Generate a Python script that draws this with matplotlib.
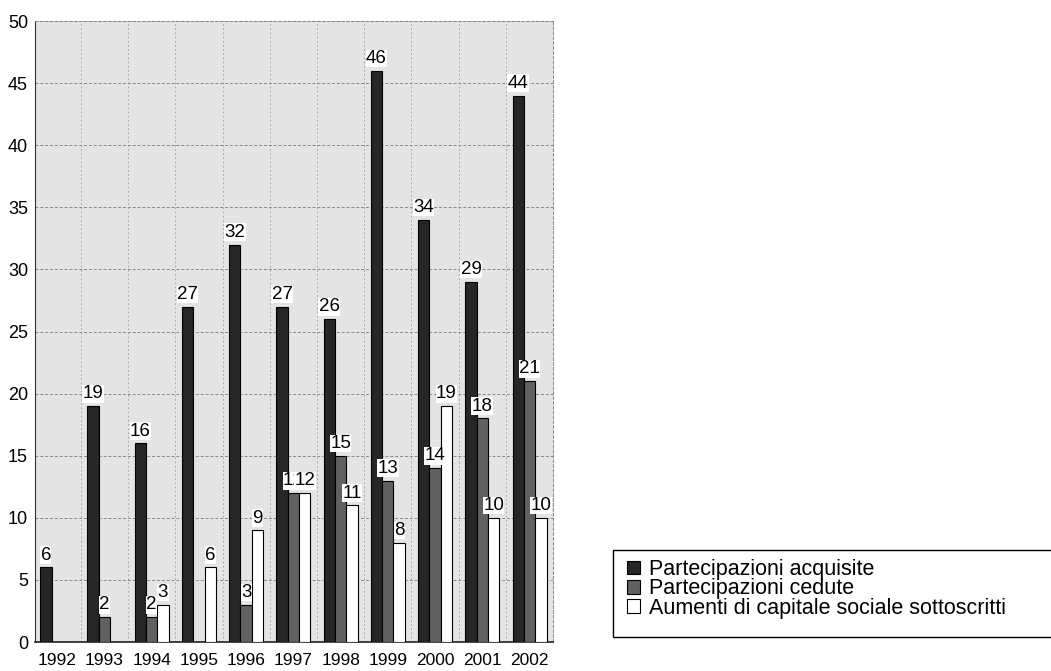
import numpy as np
import matplotlib.pyplot as plt
from matplotlib.patches import Rectangle

plt.rcParams['font.family'] = ['Liberation Sans', 'DejaVu Sans']

# dati
anni = ['1992', '1993', '1994', '1995', '1996', '1997', '1998', '1999', '2000', '2001', '2002']
acquisite = [6, 19, 16, 27, 32, 27, 26, 46, 34, 29, 44]
cedute = [0, 2, 2, 0, 3, 12, 15, 13, 14, 18, 21]
aumenti = [0, 0, 3, 6, 9, 12, 11, 8, 19, 10, 10]
serie = ['Partecipazioni acquisite', 'Partecipazioni cedute',
         'Aumenti di capitale sociale sottoscritti']

fig = plt.figure(figsize=(10.51, 6.71), dpi=100)
ax = fig.add_axes([0.0333, 0.0432, 0.493, 0.9255])
ax.set_facecolor('#e4e4e4')

x = np.arange(len(anni))
w = 0.24
colori = ['#262626', '#616161', 'white']
for i, (vals, col, lab) in enumerate(zip([acquisite, cedute, aumenti], colori, serie)):
    bars = ax.bar(x + (i - 1) * w, vals, w, color=col, edgecolor='black',
                  linewidth=0.8, label=lab, zorder=3)
    for b, v in zip(bars, vals):
        if v > 0:
            ax.text(b.get_x() + b.get_width() / 2, v + 0.3, str(v),
                    ha='center', va='bottom', fontsize=13.5, zorder=4,
                    bbox=dict(facecolor='white', edgecolor='none', pad=0.3))

ax.set_xlim(-0.47, 10.5)
ax.set_ylim(0, 50)
ax.set_yticks(range(0, 51, 5))
ax.set_xticks(x)
ax.set_xticklabels(anni, fontsize=12.5)
ax.tick_params(axis='y', labelsize=13, length=0, pad=5)
ax.tick_params(axis='x', length=0, pad=8)

# griglia
ax.grid(axis='y', color='#888888', linestyle=(0, (3, 2)), linewidth=0.7, zorder=1)
for xb in x[:-1] + 0.5:
    ax.axvline(xb, color='#999999', linestyle=(0, (2, 3)), linewidth=0.6, zorder=1)

for s in ['top', 'right']:
    ax.spines[s].set_color('#888888')
    ax.spines[s].set_linestyle((0, (3, 2)))
    ax.spines[s].set_linewidth(0.7)
ax.spines['left'].set_color('#333333')
ax.spines['bottom'].set_color('#222222')
ax.spines['bottom'].set_linewidth(1.2)

# cornice della legenda (esce dal bordo destro come nell'originale)
fig.patches.append(Rectangle((613 / 1051, 1 - 637 / 671), 0.5, 87 / 671,
                             transform=fig.transFigure, facecolor='white',
                             edgecolor='black', linewidth=1.0))
leg = fig.legend(loc='upper left', bbox_to_anchor=(627 / 1051, 1 - 559 / 671),
                 fontsize=15.5, frameon=False,
                 handlelength=0.6, handleheight=0.6, handletextpad=0.4,
                 labelspacing=-0.08, borderpad=0, borderaxespad=0)

fig.savefig('out.png', dpi=100)
